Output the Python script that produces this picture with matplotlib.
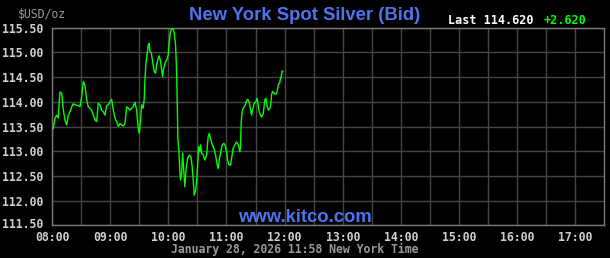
import matplotlib
matplotlib.use("Agg")
import matplotlib.pyplot as plt
from matplotlib.transforms import ScaledTranslation

# minutes after 08:00 and bid price
minutes = [1.3, 3.1, 4.8, 6.5, 8.2, 10.0, 11.7, 13.4, 15.2, 16.8, 18.6, 20.3, 22.0, 23.7,
           27.1, 28.9, 30.6, 32.3, 34.0, 35.8, 37.4, 40.9, 42.6, 44.3, 46.1, 47.7, 49.5,
           51.2, 52.9, 54.6, 56.4, 58.0, 59.8, 61.5, 63.2, 65.0, 66.7, 68.4, 70.1, 71.9,
           73.5, 75.3, 77.0, 78.7, 80.4, 82.2, 83.8, 85.6, 87.3, 89.0, 90.0, 91.4, 92.5,
           94.1, 95.2, 95.9, 96.9, 98.3, 99.3, 100.3, 101.0, 102.4, 103.8, 105.5, 106.9,
           107.9, 109.6, 110.6, 112.1, 113.1, 114.2, 114.8, 116.5, 118.3, 119.9, 120.9,
           122.0, 123.4, 125.1, 126.1, 127.5, 128.6, 129.2, 129.9, 130.9, 132.0, 132.7,
           133.7, 134.8, 136.1, 137.1, 138.2, 139.9, 141.6, 143.3, 144.6, 145.7, 146.7,
           148.2, 149.2, 150.2, 151.2, 152.3, 153.3, 154.3, 156.0, 157.7, 159.5, 161.1,
           162.2, 163.6, 165.3, 167.0, 168.8, 170.4, 171.5, 172.5, 174.2, 175.6, 177.3,
           178.4, 180.1, 181.1, 182.5, 184.2, 185.3, 186.9, 188.7, 190.4, 192.1, 193.8,
           194.5, 195.2, 196.2, 197.2, 199.0, 200.3, 201.8, 203.4, 204.9, 205.9, 207.2,
           208.6, 210.3, 211.7, 212.7, 213.7, 215.2, 216.2, 217.9, 219.6, 220.6, 222.0,
           223.4, 224.8, 225.8, 226.5, 227.5, 229.2, 231.0, 232.3, 233.3, 234.8, 235.8,
           236.8, 237.4, 238.0]
prices = [113.46, 113.67, 113.73, 113.67, 114.20, 114.17, 113.83, 113.63, 113.53, 113.73,
          113.80, 113.90, 113.96, 113.94, 113.92, 113.90, 114.10, 114.41, 114.34, 114.04,
          113.90, 113.83, 113.73, 113.63, 113.60, 113.97, 113.94, 113.83, 113.80, 113.73,
          113.92, 113.94, 114.00, 114.05, 113.83, 113.67, 113.60, 113.50, 113.56, 113.53,
          113.51, 113.56, 113.90, 113.87, 113.83, 113.87, 113.90, 113.99, 113.83, 113.46,
          113.36, 113.63, 113.94, 113.87, 114.07, 114.44, 114.78, 114.98, 115.15, 115.18,
          115.01, 115.00, 114.81, 114.61, 114.58, 114.74, 114.88, 114.93, 114.81, 114.64,
          114.51, 114.64, 114.78, 114.85, 114.95, 115.18, 115.39, 115.49, 115.47, 115.39,
          115.15, 114.58, 113.97, 113.23, 113.02, 112.55, 112.42, 112.55, 112.96, 112.55,
          112.28, 112.62, 112.86, 112.92, 112.89, 112.69, 112.42, 112.11, 112.21, 112.42,
          112.69, 113.09, 112.99, 113.13, 112.96, 112.93, 112.82, 112.92, 113.29, 113.36,
          113.26, 113.13, 113.06, 112.92, 112.72, 112.65, 112.82, 113.00, 113.13, 113.16,
          113.13, 112.99, 112.82, 112.72, 112.72, 112.86, 113.06, 113.13, 113.19, 113.13,
          112.99, 113.09, 113.60, 113.80, 113.87, 113.92, 114.00, 114.05, 114.00, 113.83,
          113.73, 113.87, 113.97, 114.00, 114.07, 113.94, 113.80, 113.73, 113.69, 113.76,
          114.04, 114.07, 113.90, 113.83, 113.87, 113.97, 114.14, 114.21, 114.17, 114.15,
          114.21, 114.34, 114.38, 114.48, 114.54, 114.62, 114.62]

x_ticks = [0, 60, 120, 180, 240, 300, 360, 420, 480, 540]
x_labels = ["08:00", "09:00", "10:00", "11:00", "12:00", "13:00", "14:00", "15:00", "16:00", "17:00"]
y_ticks = [111.5, 112.0, 112.5, 113.0, 113.5, 114.0, 114.5, 115.0, 115.5]

TITLE = "New York Spot Silver (Bid)"
LAST = "Last 114.620"
CHANGE = "+2.620"
DATE_LINE = "January 28, 2026 11:58 New York Time"

MONO = "DejaVu Sans Mono"
LABEL_GRAY = "#d0d0d0"
DIM_GRAY = "#9a9a9a"
BLUE = "#4f74f0"

fig = plt.figure(figsize=(6.1, 2.58), dpi=100, facecolor="black")
ax = fig.add_axes([52 / 610, 1 - 225.3 / 258, 552.5 / 610, 197.6 / 258])
ax.set_facecolor("black")

ax.plot(minutes, prices, color="#00ff00", lw=1.0, zorder=3)

ax.set_xlim(0, 570)
ax.set_ylim(111.5, 115.5)
ax.set_xticks(x_ticks)
ax.set_xticklabels(x_labels)
ax.set_xticks(range(30, 570, 60), minor=True)
ax.set_yticks(y_ticks)
ax.set_yticklabels(["%.2f" % v for v in y_ticks])
ax.grid(True, which="both", color="#464646", lw=1.0)
ax.tick_params(which="both", length=0)
ax.tick_params(axis="x", pad=4, colors=LABEL_GRAY, labelsize=8.3)
ax.tick_params(axis="y", pad=6, colors=LABEL_GRAY, labelsize=8.3)
for lab in ax.get_xticklabels() + ax.get_yticklabels():
    lab.set_fontfamily(MONO)
    lab.set_fontweight("bold")
# bottom price label sits a touch above its gridline, clear of the 08:00 label
low = ax.get_yticklabels()[0]
low.set_transform(low.get_transform() + ScaledTranslation(0, 2 / 100, fig.dpi_scale_trans))

for s in ax.spines.values():
    s.set_color("#7a7a7a")
    s.set_linewidth(1.0)

fig.text(305 / 610, 1 - 16 / 258, TITLE, color=BLUE, fontsize=13.3, fontweight="bold",
         family="Liberation Sans", ha="center", va="center")
fig.text(18 / 610, 1 - 14 / 258, "$USD/oz", color=DIM_GRAY, fontsize=8.3,
         family=MONO, ha="left", va="center")
fig.text(448 / 610, 1 - 20 / 258, LAST, color="white", fontsize=8.5, fontweight="bold",
         family=MONO, ha="left", va="center")
fig.text(544 / 610, 1 - 20 / 258, CHANGE, color="#00ff00", fontsize=8.5, fontweight="bold",
         family=MONO, ha="left", va="center")
fig.text(305 / 610, 1 - 217 / 258, "www.kitco.com", color=BLUE, fontsize=13.3, fontweight="bold",
         family="Liberation Sans", ha="center", va="center")
fig.text(295 / 610, 1 - 249 / 258, DATE_LINE, color=DIM_GRAY, fontsize=8.3, fontweight="bold",
         family=MONO, ha="center", va="center")

fig.savefig("out.png", dpi=100, facecolor="black")
